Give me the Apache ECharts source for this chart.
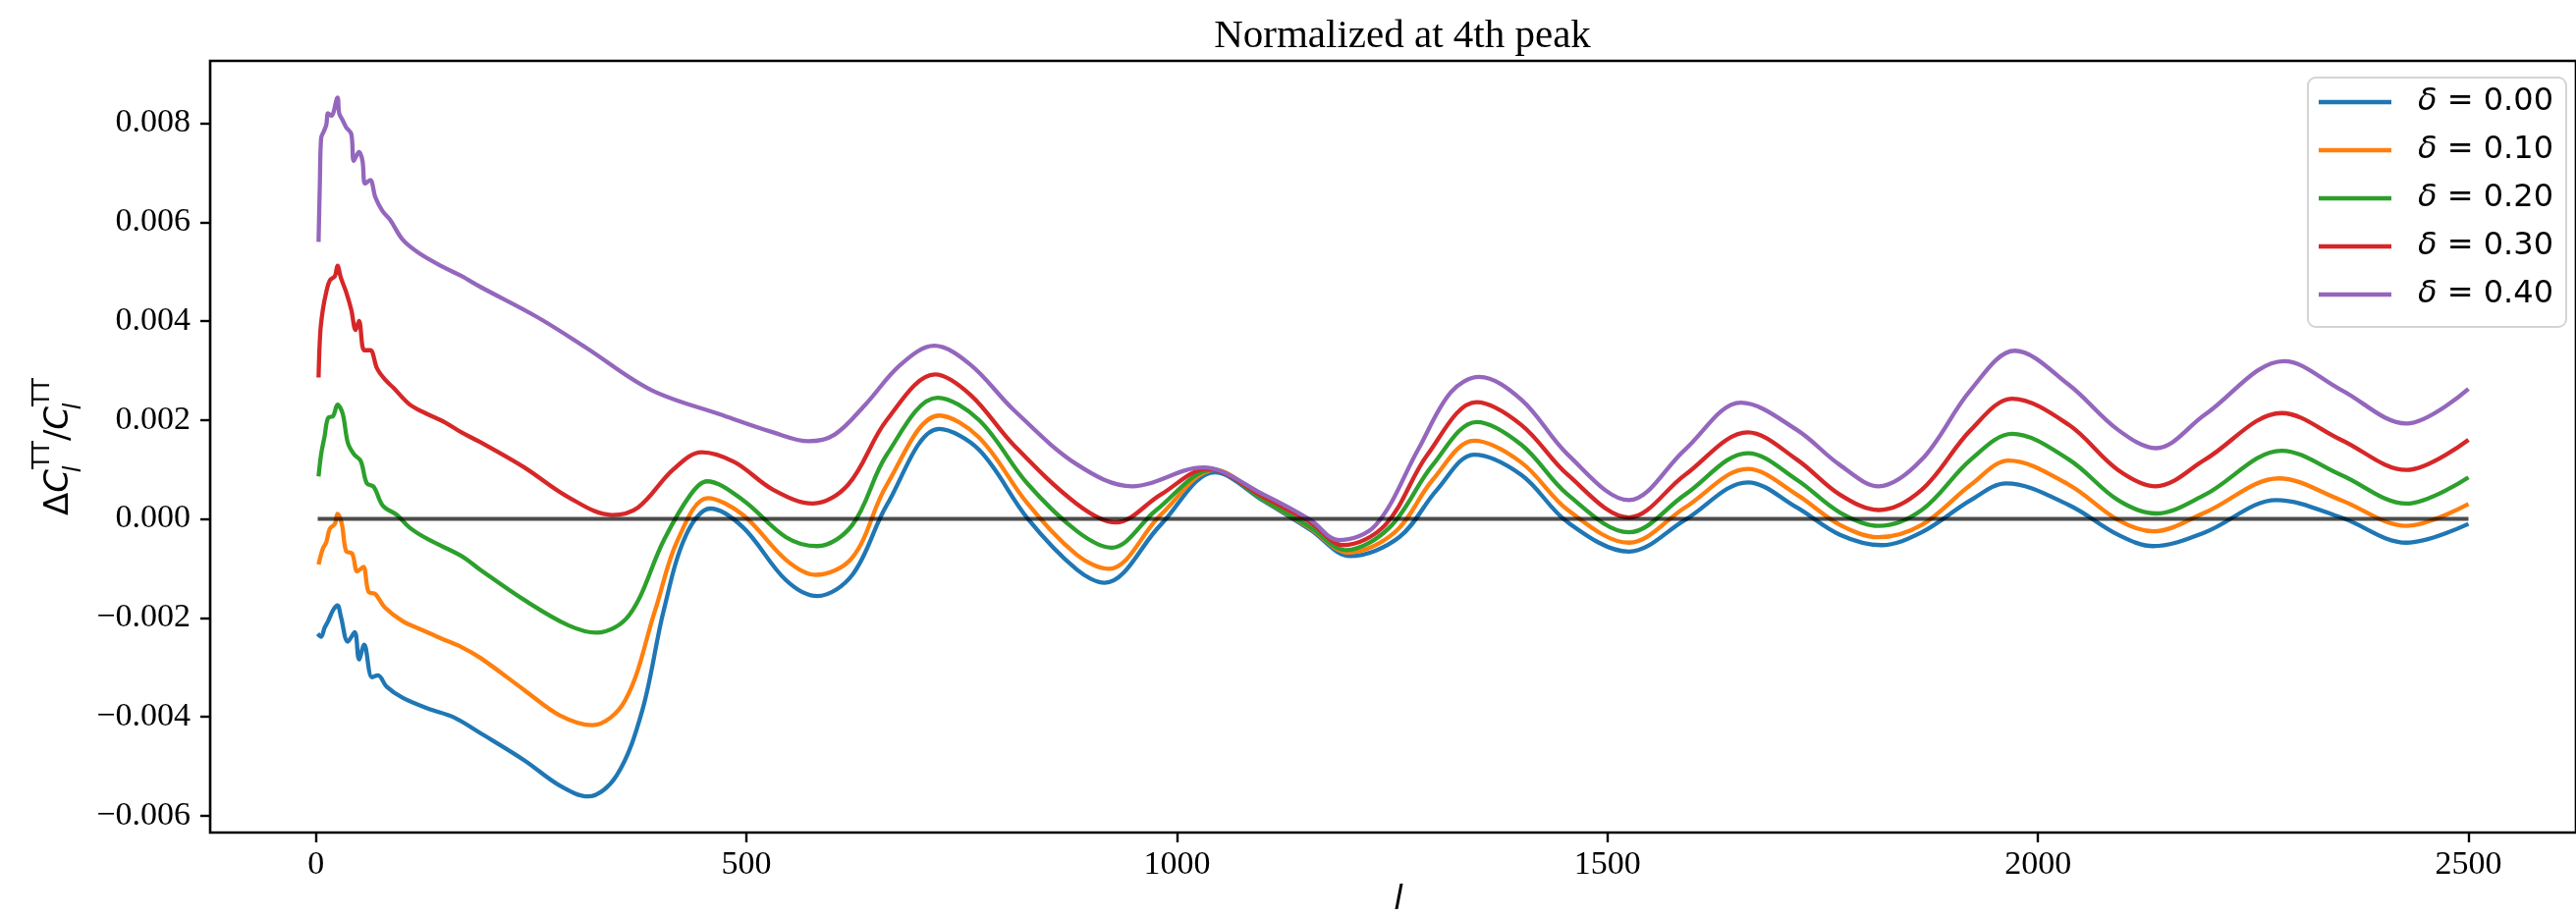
<!DOCTYPE html>
<html>
<head>
<meta charset="utf-8">
<script src="https://cdn.jsdelivr.net/npm/echarts@6/dist/echarts.min.js"></script>
<style>
html, body { margin: 0; padding: 0; background: #fff; }
#chart { width: 2623px; height: 933px; }
</style>
</head>
<body>
<div id="chart"></div>
<script>
// multipole l and relative difference dC_l/C_l, one pair per delta
const ell00 = [2, 6, 10, 14, 20, 25, 29, 37, 45, 50, 56, 65, 72, 82, 101, 131, 160, 191, 242, 283, 316, 349, 379, 404, 430, 458, 496, 546, 582, 623, 663, 724, 770, 827, 884, 916, 981, 1044, 1101, 1155, 1201, 1258, 1302, 1345, 1400, 1454, 1525, 1590, 1663, 1720, 1770, 1818, 1865, 1922, 1963, 2036, 2093, 2134, 2194, 2277, 2352, 2428, 2500];
const rel00 = [-0.00232, -0.00238, -0.00220, -0.00207, -0.00184, -0.00175, -0.00198, -0.00248, -0.00229, -0.00284, -0.00254, -0.00320, -0.00316, -0.00339, -0.00362, -0.00384, -0.00401, -0.00433, -0.00488, -0.00539, -0.00561, -0.00519, -0.00387, -0.00184, -0.00032, 0.00021, -0.00017, -0.00124, -0.00156, -0.00113, 0.00028, 0.00182, 0.00140, 0.00000, -0.00103, -0.00129, -0.00012, 0.00094, 0.00036, -0.00022, -0.00075, -0.00037, 0.00059, 0.00130, 0.00089, -0.00007, -0.00066, -0.00002, 0.00074, 0.00023, -0.00032, -0.00053, -0.00027, 0.00038, 0.00072, 0.00028, -0.00032, -0.00055, -0.00027, 0.00038, 0.00003, -0.00048, -0.00010];

const ell10 = [3, 8, 12, 16, 22, 25, 30, 35, 42, 48, 55, 61, 69, 80, 101, 124, 147, 169, 191, 242, 283, 321, 359, 394, 420, 455, 496, 546, 580, 623, 663, 724, 770, 827, 884, 921, 981, 1044, 1101, 1155, 1199, 1253, 1297, 1345, 1400, 1454, 1525, 1590, 1663, 1720, 1770, 1815, 1865, 1922, 1966, 2036, 2093, 2134, 2194, 2280, 2352, 2428, 2500];
const rel10 = [-0.00092, -0.00060, -0.00047, -0.00020, -0.00010, 0.00010, -0.00010, -0.00065, -0.00070, -0.00106, -0.00097, -0.00147, -0.00152, -0.00179, -0.00207, -0.00225, -0.00243, -0.00259, -0.00281, -0.00346, -0.00397, -0.00417, -0.00367, -0.00184, -0.00043, 0.00042, 0.00008, -0.00083, -0.00113, -0.00078, 0.00069, 0.00209, 0.00165, 0.00030, -0.00073, -0.00101, 0.00008, 0.00099, 0.00038, -0.00019, -0.00068, -0.00027, 0.00079, 0.00158, 0.00114, 0.00018, -0.00048, 0.00023, 0.00101, 0.00049, -0.00012, -0.00037, -0.00012, 0.00069, 0.00118, 0.00069, -0.00002, -0.00025, 0.00013, 0.00082, 0.00038, -0.00014, 0.00030];

const ell20 = [3, 6, 10, 14, 20, 25, 31, 37, 44, 52, 59, 67, 78, 94, 109, 131, 169, 191, 242, 293, 326, 364, 404, 435, 454, 496, 546, 582, 623, 663, 722, 770, 826, 884, 924, 976, 1041, 1101, 1155, 1196, 1247, 1297, 1348, 1400, 1454, 1525, 1590, 1663, 1720, 1770, 1815, 1865, 1922, 1970, 2036, 2093, 2137, 2194, 2283, 2352, 2428, 2500];
const rel20 = [0.00086, 0.00131, 0.00167, 0.00204, 0.00208, 0.00231, 0.00213, 0.00154, 0.00131, 0.00117, 0.00072, 0.00065, 0.00026, 0.00008, -0.00018, -0.00042, -0.00075, -0.00103, -0.00164, -0.00215, -0.00230, -0.00194, -0.00043, 0.00049, 0.00076, 0.00038, -0.00037, -0.00055, -0.00012, 0.00130, 0.00245, 0.00200, 0.00072, -0.00025, -0.00058, 0.00018, 0.00099, 0.00038, -0.00017, -0.00063, -0.00017, 0.00109, 0.00196, 0.00150, 0.00049, -0.00027, 0.00049, 0.00133, 0.00079, 0.00013, -0.00014, 0.00018, 0.00120, 0.00172, 0.00120, 0.00038, 0.00011, 0.00049, 0.00138, 0.00089, 0.00031, 0.00084];

const ell30 = [3, 5, 8, 12, 16, 22, 25, 29, 35, 41, 46, 50, 56, 63, 71, 80, 90, 109, 128, 150, 169, 191, 242, 293, 344, 374, 415, 448, 486, 531, 577, 618, 663, 719, 760, 810, 884, 929, 981, 1035, 1101, 1155, 1193, 1242, 1291, 1348, 1400, 1454, 1525, 1590, 1663, 1720, 1770, 1815, 1865, 1922, 1970, 2036, 2093, 2137, 2194, 2283, 2352, 2428, 2500];
const rel30 = [0.00286, 0.00377, 0.00423, 0.00459, 0.00482, 0.00491, 0.00512, 0.00487, 0.00459, 0.00423, 0.00382, 0.00400, 0.00341, 0.00341, 0.00304, 0.00282, 0.00265, 0.00231, 0.00213, 0.00195, 0.00175, 0.00155, 0.00104, 0.00044, 0.00008, 0.00023, 0.00100, 0.00135, 0.00115, 0.00059, 0.00031, 0.00069, 0.00200, 0.00292, 0.00251, 0.00150, 0.00030, -0.00007, 0.00049, 0.00101, 0.00044, -0.00007, -0.00053, -0.00012, 0.00130, 0.00236, 0.00190, 0.00089, 0.00003, 0.00089, 0.00175, 0.00120, 0.00049, 0.00018, 0.00059, 0.00180, 0.00243, 0.00190, 0.00099, 0.00066, 0.00120, 0.00214, 0.00160, 0.00099, 0.00160];

const ell40 = [3, 4.5, 6, 9, 12, 14, 18, 25, 27, 31, 35, 41, 44, 50, 54, 57, 63, 69, 77, 86, 101, 120, 147, 169, 191, 257, 313, 389, 470, 531, 572, 602, 638, 679, 718, 760, 810, 884, 948, 1030, 1101, 1155, 1188, 1231, 1280, 1318, 1351, 1400, 1454, 1525, 1590, 1655, 1720, 1770, 1815, 1865, 1922, 1973, 2036, 2093, 2137, 2194, 2286, 2352, 2428, 2500];
const rel40 = [0.00560, 0.00678, 0.00770, 0.00783, 0.00797, 0.00820, 0.00815, 0.00852, 0.00820, 0.00806, 0.00792, 0.00778, 0.00724, 0.00742, 0.00724, 0.00678, 0.00685, 0.00650, 0.00623, 0.00605, 0.00564, 0.00537, 0.00510, 0.00491, 0.00469, 0.00408, 0.00347, 0.00261, 0.00211, 0.00175, 0.00157, 0.00170, 0.00231, 0.00312, 0.00350, 0.00312, 0.00221, 0.00110, 0.00066, 0.00104, 0.00049, -0.00002, -0.00043, -0.00012, 0.00140, 0.00256, 0.00287, 0.00241, 0.00130, 0.00038, 0.00140, 0.00235, 0.00180, 0.00109, 0.00066, 0.00120, 0.00261, 0.00340, 0.00271, 0.00180, 0.00143, 0.00211, 0.00319, 0.00261, 0.00193, 0.00263];

const deltaLabels = ['0.00', '0.10', '0.20', '0.30', '0.40'];
const xTicks = [0, 500, 1000, 1500, 2000, 2500];
const yTicks = [-0.006, -0.004, -0.002, 0, 0.002, 0.004, 0.006, 0.008];
const zeroEll = [2, 2500];

const curves = [[ell00, rel00], [ell10, rel10], [ell20, rel20], [ell30, rel30], [ell40, rel40]];
const palette = ['#1f77b4', '#ff7f0e', '#2ca02c', '#d62728', '#9467bd'];

var series = curves.map(function (c, i) {
    return {
        name: 'δ = ' + deltaLabels[i],
        type: 'line',
        data: c[0].map(function (l, k) { return [l, c[1][k]]; }),
        showSymbol: false,
        symbol: 'none',
        smooth: 0.35,
        color: palette[i],
        lineStyle: { width: 4.3, color: palette[i] },
        emphasis: { disabled: true },
        z: 2 + i
    };
});
series.push({
    name: 'zero',
    type: 'line',
    data: zeroEll.map(function (l) { return [l, 0]; }),
    showSymbol: false,
    symbol: 'none',
    lineStyle: { width: 4, color: 'rgba(0,0,0,0.7)' },
    emphasis: { disabled: true },
    z: 10
});

var tickFont = 'Liberation Serif';
var option = {
    animation: false,
    backgroundColor: '#fff',
    title: {
        text: 'Normalized at 4th peak',
        left: 1423,
        top: 12,
        textAlign: 'center',
        textStyle: { fontFamily: tickFont, fontSize: 41, fontWeight: 'normal', color: '#000' }
    },
    grid: {
        left: 214, top: 62, width: 2417, height: 786,
        show: true, borderColor: '#000', borderWidth: 2.6
    },
    xAxis: {
        type: 'value',
        min: -122.9, max: 2624.9,
        axisLine: { show: false, onZero: false },
        splitLine: { show: false },
        axisTick: { show: true, customValues: xTicks, length: 10, lineStyle: { color: '#000', width: 2.4 } },
        axisLabel: {
            customValues: xTicks, margin: 16, fontFamily: tickFont, fontSize: 34, color: '#000',
            formatter: function (v) { return String(v); }
        }
    },
    yAxis: {
        type: 'value',
        min: -0.00634, max: 0.00926,
        axisLine: { show: false, onZero: false },
        splitLine: { show: false },
        axisTick: { show: true, customValues: yTicks, length: 10, lineStyle: { color: '#000', width: 2.4 } },
        axisLabel: {
            customValues: yTicks, margin: 20, fontFamily: tickFont, fontSize: 34, color: '#000',
            formatter: function (v) { return (v < -1e-9 ? '\u2212' : '') + Math.abs(v).toFixed(3); }
        }
    },
    legend: {
        orient: 'vertical',
        left: 2350, top: 79,
        data: deltaLabels.map(function (d) { return 'δ = ' + d; }),
        icon: 'rect',
        itemWidth: 74, itemHeight: 4.5, itemGap: 17,
        padding: [9, 13, 17, 11],
        backgroundColor: 'rgba(255,255,255,0.8)',
        borderColor: '#d4d4d4', borderWidth: 2, borderRadius: 8,
        formatter: function (name) { return '{g|δ}' + name.slice(1); },
        textStyle: {
            fontFamily: 'DejaVu Sans', fontSize: 32, color: '#000', lineHeight: 32,
            padding: [0, 0, 0, 22],
            rich: { g: { fontFamily: 'DejaVu Sans', fontStyle: 'italic', fontSize: 32, lineHeight: 32, color: '#000' } }
        }
    },
    graphic: [
        {
            type: 'text',
            x: 60, y: 455,
            rotation: Math.PI / 2,
            style: {
                text: '{n|Δ}{i|C}{b|l}{p|TT}{n|/}{i|C}{b|l}{p|TT}',
                align: 'center', verticalAlign: 'middle',
                rich: {
                    n: { fontFamily: 'DejaVu Sans', fontSize: 34, lineHeight: 56, fill: '#000' },
                    i: { fontFamily: 'DejaVu Sans', fontStyle: 'italic', fontSize: 34, lineHeight: 56, fill: '#000' },
                    b: { fontFamily: 'DejaVu Sans', fontStyle: 'italic', fontSize: 24, lineHeight: 24, width: 0, verticalAlign: 'bottom', fill: '#000' },
                    p: { fontFamily: 'DejaVu Sans', fontSize: 24, lineHeight: 24, verticalAlign: 'top', fill: '#000' }
                }
            }
        },
        {
            type: 'text',
            x: 1424, y: 900,
            style: {
                text: 'l',
                fontFamily: 'DejaVu Sans', fontStyle: 'italic', fontSize: 34,
                align: 'center', verticalAlign: 'top', fill: '#000'
            }
        }
    ],
    series: series
};

var myChart = echarts.init(document.getElementById('chart'));
myChart.setOption(option);
</script>
</body>
</html>
